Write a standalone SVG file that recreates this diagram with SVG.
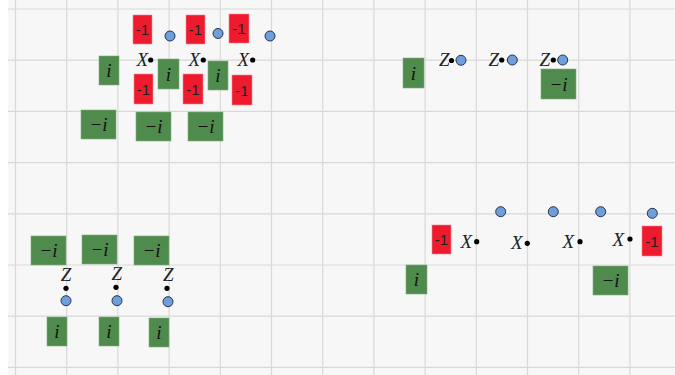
<svg xmlns="http://www.w3.org/2000/svg" width="675" height="375" viewBox="0 0 675 375">
<style>
.bg{fill:#f7f7f7}
.grid line{stroke:#d9d9d9;stroke-width:1.2}
.red{fill:#ee1b2e;stroke:#f58a94;stroke-width:0.6}
.grn{fill:#4f8b4c;stroke:#7fae7c;stroke-width:0.6}
.circ{fill:#6f9edb;stroke:#24344f;stroke-width:1}
.dot{fill:#000}
.n1{font-family:"Liberation Sans",Arial,sans-serif;font-size:15px;fill:#222;text-anchor:middle}
.mi{font-family:"Liberation Serif","DejaVu Serif",serif;font-style:italic;font-size:19px;fill:#111;text-anchor:middle}
.lab{font-family:"Liberation Serif","DejaVu Serif",serif;font-style:italic;font-size:19px;fill:#222}
.end{text-anchor:end}
.mid{text-anchor:middle}
</style>
<rect x="0" y="0" width="675" height="375" fill="#ffffff"/>
<rect class="bg" x="8" y="0" width="667" height="375"/>
<g class="grid">
<line x1="8" y1="9" x2="675" y2="9"/>
<line x1="8" y1="60.2" x2="675" y2="60.2"/>
<line x1="8" y1="111.4" x2="675" y2="111.4"/>
<line x1="8" y1="162.6" x2="675" y2="162.6"/>
<line x1="8" y1="213.8" x2="675" y2="213.8"/>
<line x1="8" y1="265" x2="675" y2="265"/>
<line x1="8" y1="316.2" x2="675" y2="316.2"/>
<line x1="8" y1="367.4" x2="675" y2="367.4"/>
<line x1="15.5" y1="0" x2="15.5" y2="375"/>
<line x1="66.7" y1="0" x2="66.7" y2="375"/>
<line x1="117.9" y1="0" x2="117.9" y2="375"/>
<line x1="169.1" y1="0" x2="169.1" y2="375"/>
<line x1="220.3" y1="0" x2="220.3" y2="375"/>
<line x1="271.5" y1="0" x2="271.5" y2="375"/>
<line x1="322.7" y1="0" x2="322.7" y2="375"/>
<line x1="373.9" y1="0" x2="373.9" y2="375"/>
<line x1="425.1" y1="0" x2="425.1" y2="375"/>
<line x1="476.3" y1="0" x2="476.3" y2="375"/>
<line x1="527.5" y1="0" x2="527.5" y2="375"/>
<line x1="578.7" y1="0" x2="578.7" y2="375"/>
<line x1="629.9" y1="0" x2="629.9" y2="375"/>
</g>
<g id="connectors"></g>

<!-- top-left -->
<g id="tl-r1"><rect class="red" x="133" y="15" width="19" height="29"/><text class="n1" x="142.5" y="35">-1</text></g>
<g id="tl-r2"><rect class="red" x="186" y="15" width="19" height="29"/><text class="n1" x="195.5" y="35">-1</text></g>
<g id="tl-r3"><rect class="red" x="229" y="14" width="20" height="29"/><text class="n1" x="239" y="34">-1</text></g>
<g id="tl-c1"><circle class="circ" cx="170" cy="36" r="5"/></g>
<g id="tl-c2"><circle class="circ" cx="218" cy="33.5" r="5"/></g>
<g id="tl-c3"><circle class="circ" cx="270" cy="36" r="5"/></g>
<g id="tl-x1"><text class="lab end" x="148" y="65.5">X</text><circle class="dot" cx="150.7" cy="60" r="2.6"/></g>
<g id="tl-x2"><text class="lab end" x="200" y="65.5">X</text><circle class="dot" cx="203.3" cy="60" r="2.6"/></g>
<g id="tl-x3"><text class="lab end" x="249" y="65.5">X</text><circle class="dot" cx="252.7" cy="60" r="2.6"/></g>
<g id="tl-g1"><rect class="grn" x="99" y="56" width="20" height="29"/><text class="mi" x="109" y="77">i</text></g>
<g id="tl-g2"><rect class="grn" x="158" y="59" width="21" height="30"/><text class="mi" x="168.5" y="80.5">i</text></g>
<g id="tl-g3"><rect class="grn" x="208" y="61" width="20" height="29"/><text class="mi" x="218" y="82">i</text></g>
<g id="tl-r4"><rect class="red" x="134" y="74" width="19" height="30"/><text class="n1" x="143.5" y="94.5">-1</text></g>
<g id="tl-r5"><rect class="red" x="183" y="74" width="20" height="30"/><text class="n1" x="193" y="94.5">-1</text></g>
<g id="tl-r6"><rect class="red" x="232" y="75" width="20" height="30"/><text class="n1" x="242" y="95.5">-1</text></g>
<g id="tl-m1"><rect class="grn" x="81" y="110" width="35" height="29"/><text class="mi" x="98.5" y="131">−i</text></g>
<g id="tl-m2"><rect class="grn" x="136" y="112" width="35" height="29"/><text class="mi" x="153.5" y="133">−i</text></g>
<g id="tl-m3"><rect class="grn" x="188" y="112" width="35" height="29"/><text class="mi" x="205.5" y="133">−i</text></g>

<!-- top-right -->
<g id="tr-g1"><rect class="grn" x="403" y="58" width="21" height="30"/><text class="mi" x="413.5" y="79.5">i</text></g>
<g id="tr-z1"><text class="lab end" x="449.5" y="66">Z</text><circle class="dot" cx="451.5" cy="60.5" r="2.6"/><circle class="circ" cx="461" cy="60.3" r="5"/></g>
<g id="tr-z2"><text class="lab end" x="499" y="65.5">Z</text><circle class="dot" cx="501.7" cy="60" r="2.6"/><circle class="circ" cx="512.3" cy="60" r="5"/></g>
<g id="tr-z3"><text class="lab end" x="550" y="65.5">Z</text><circle class="dot" cx="553.3" cy="60" r="2.6"/><circle class="circ" cx="562.7" cy="60" r="5"/></g>
<g id="tr-m1"><rect class="grn" x="541" y="69" width="35" height="30"/><text class="mi" x="558.5" y="90.5">−i</text></g>

<!-- bottom-left -->
<g id="bl-m1"><rect class="grn" x="31" y="236" width="35" height="29"/><text class="mi" x="48.5" y="257">−i</text></g>
<g id="bl-m2"><rect class="grn" x="82" y="235" width="35" height="29"/><text class="mi" x="99.5" y="256">−i</text></g>
<g id="bl-m3"><rect class="grn" x="134" y="236" width="35" height="29"/><text class="mi" x="151.5" y="257">−i</text></g>
<g id="bl-z1"><text class="lab mid" x="66" y="280.5">Z</text><circle class="dot" cx="66" cy="288.3" r="2.6"/><circle class="circ" cx="66" cy="300.7" r="5"/></g>
<g id="bl-z2"><text class="lab mid" x="116.7" y="280">Z</text><circle class="dot" cx="116" cy="287.3" r="2.6"/><circle class="circ" cx="117" cy="300.7" r="5"/></g>
<g id="bl-z3"><text class="lab mid" x="168.3" y="280.5">Z</text><circle class="dot" cx="167" cy="288.3" r="2.6"/><circle class="circ" cx="168" cy="301.7" r="5"/></g>
<g id="bl-g1"><rect class="grn" x="47" y="317" width="20" height="29"/><text class="mi" x="57" y="338">i</text></g>
<g id="bl-g2"><rect class="grn" x="99" y="317" width="20" height="29"/><text class="mi" x="109" y="338">i</text></g>
<g id="bl-g3"><rect class="grn" x="149" y="318" width="20" height="29"/><text class="mi" x="159" y="339">i</text></g>

<!-- bottom-right -->
<g id="br-c1"><circle class="circ" cx="500.7" cy="211.7" r="5"/></g>
<g id="br-c2"><circle class="circ" cx="553.3" cy="211.7" r="5"/></g>
<g id="br-c3"><circle class="circ" cx="600.7" cy="211.7" r="5"/></g>
<g id="br-c4"><circle class="circ" cx="652.3" cy="213.3" r="5"/></g>
<g id="br-r1"><rect class="red" x="432" y="225" width="19" height="29"/><text class="n1" x="441.5" y="245">-1</text></g>
<g id="br-x1"><text class="lab end" x="472" y="247.5">X</text><circle class="dot" cx="476.7" cy="241.7" r="2.6"/></g>
<g id="br-x2"><text class="lab end" x="522.5" y="248.5">X</text><circle class="dot" cx="527.3" cy="243.3" r="2.6"/></g>
<g id="br-x3"><text class="lab end" x="574" y="247.5">X</text><circle class="dot" cx="580" cy="241.7" r="2.6"/></g>
<g id="br-x4"><text class="lab end" x="624" y="245.5">X</text><circle class="dot" cx="630" cy="239" r="2.6"/></g>
<g id="br-r2"><rect class="red" x="642" y="226" width="20" height="30"/><text class="n1" x="652" y="246.5">-1</text></g>
<g id="br-g1"><rect class="grn" x="406" y="265" width="21" height="29"/><text class="mi" x="416.5" y="286">i</text></g>
<g id="br-m1"><rect class="grn" x="593" y="266" width="35" height="29"/><text class="mi" x="610.5" y="287">−i</text></g>
</svg>
